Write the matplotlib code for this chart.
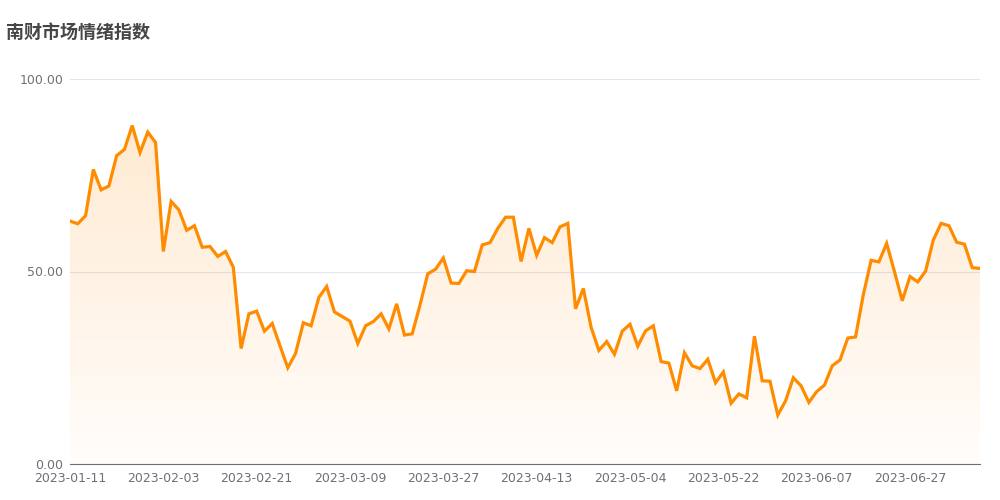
import numpy as np
import pandas as pd
import matplotlib.pyplot as plt
from matplotlib.colors import LinearSegmentedColormap

# trading days, 2023-01-11 .. 2023-07-10 (SSE holidays removed)
holidays = ['2023-01-23', '2023-01-24', '2023-01-25', '2023-01-26', '2023-01-27',
            '2023-04-05', '2023-05-01', '2023-05-02', '2023-05-03',
            '2023-06-22', '2023-06-23']
dates = [d.strftime('%Y-%m-%d') for d in pd.bdate_range('2023-01-11', '2023-07-10')
         if d.strftime('%Y-%m-%d') not in holidays]

sentiment = [
    63.1, 62.4, 64.5, 76.5, 71.2, 72.2, 80.1, 81.7, 87.9, 80.9,
    86.2, 83.5, 55.2, 68.2, 66.0, 60.7, 61.9, 56.3, 56.5, 53.9,
    55.2, 51.1, 30.0, 39.0, 39.7, 34.5, 36.5, 30.7, 25.0, 28.7,
    36.7, 35.9, 43.3, 46.1, 39.5, 38.3, 37.1, 31.3, 35.9, 37.0,
    39.0, 35.1, 41.6, 33.5, 33.8, 41.3, 49.4, 50.6, 53.5, 47.0,
    46.9, 50.2, 50.0, 56.9, 57.5, 61.2, 64.1, 64.1, 52.6, 61.2,
    54.2, 58.8, 57.5, 61.6, 62.5, 40.3, 45.6, 35.5, 29.5, 31.8,
    28.5, 34.5, 36.3, 30.6, 34.6, 35.9, 26.6, 26.2, 19.0, 28.9,
    25.5, 24.8, 27.2, 21.1, 23.9, 15.8, 18.2, 17.2, 33.2, 21.6,
    21.5, 12.7, 16.4, 22.4, 20.3, 16.0, 18.8, 20.5, 25.5, 27.0,
    32.7, 33.0, 44.0, 52.9, 52.5, 57.3, 50.0, 42.4, 48.7, 47.3,
    50.1, 58.2, 62.5, 61.9, 57.6, 57.1, 51.0, 50.8,
]

x = np.arange(len(sentiment))
y = np.array(sentiment)

fig = plt.figure(figsize=(10, 5), dpi=100)
ax = fig.add_axes([0.07, 0.072, 0.91, 0.77])

# gradient area under the line
ymax = y.max()
cmap = LinearSegmentedColormap.from_list('fade', [(1, 0.55, 0, 0.02), (1, 0.55, 0, 0.18)])
grad = np.linspace(0, 1, 256).reshape(-1, 1)
img = ax.imshow(grad, cmap=cmap, aspect='auto', origin='lower',
                extent=[x[0], x[-1], 0, ymax], zorder=1)
poly = ax.fill_between(x, y, 0, color='none')
img.set_clip_path(poly.get_paths()[0], transform=ax.transData)

ax.plot(x, y, color='#ff8c00', linewidth=2.3, zorder=3, solid_joinstyle='miter')

ax.set_xlim(x[0], x[-1])
ax.set_ylim(0, 100)
ax.set_yticks([0, 50, 100])
ax.set_yticklabels(['0.00', '50.00', '100.00'])
ax.set_xticks(x[::12])
ax.set_xticklabels(dates[::12])
ax.yaxis.grid(True, color='#e0e6f1', linewidth=0.8)
ax.set_axisbelow(True)

for s in ['top', 'right', 'left']:
    ax.spines[s].set_visible(False)
ax.spines['bottom'].set_color('#6e7079')
ax.spines['bottom'].set_zorder(4)
ax.tick_params(axis='both', length=0, colors='#6e7079', labelsize=9)
ax.tick_params(axis='y', pad=5)
ax.tick_params(axis='x', pad=5.5)

fig.text(0.006, 0.936, '南财市场情绪指数', fontsize=13, fontweight='bold',
         color='#464646', family=['Noto Sans CJK SC', 'DejaVu Sans'], va='center')

fig.savefig('out.png', dpi=100)
